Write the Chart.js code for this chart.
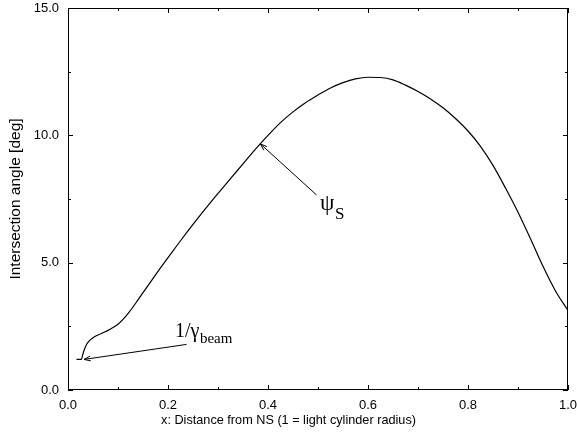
<!DOCTYPE html>
<html>
<head>
<meta charset="utf-8">
<script src="https://cdn.jsdelivr.net/npm/chart.js@4.4.0/dist/chart.umd.min.js"></script>
<style>
  html, body { margin: 0; padding: 0; background: #fff; }
  #wrap { width: 577px; height: 435px; }
</style>
</head>
<body>
<div id="wrap"><canvas id="chart-angle"></canvas></div>
<script>
// data
const xVals = [0.017, 0.027, 0.029, 0.032, 0.036, 0.042, 0.050, 0.060, 0.070, 0.080, 0.090, 0.100, 0.110, 0.120, 0.130,
    0.140, 0.160, 0.180, 0.200, 0.225, 0.250, 0.275, 0.300, 0.325, 0.350, 0.375, 0.400, 0.425, 0.450, 0.475,
    0.500, 0.525, 0.550, 0.575, 0.600, 0.625, 0.650, 0.675, 0.700, 0.725, 0.750, 0.775, 0.800, 0.825, 0.850,
    0.875, 0.900, 0.925, 0.950, 0.975, 1.000];
const yVals = [1.20, 1.20, 1.35, 1.55, 1.75, 1.92, 2.05, 2.16, 2.25, 2.34, 2.45, 2.58, 2.77, 3.00, 3.26,
    3.54, 4.10, 4.66, 5.20, 5.86, 6.50, 7.12, 7.72, 8.30, 8.88, 9.46, 10.00, 10.50, 10.92, 11.28,
    11.58, 11.86, 12.07, 12.22, 12.28, 12.27, 12.18, 11.97, 11.72, 11.43, 11.08, 10.66, 10.17, 9.57, 8.82,
    7.93, 6.98, 5.94, 4.86, 3.89, 3.12];
const xTickLabels = ['0.0', '0.2', '0.4', '0.6', '0.8', '1.0'];
const yTickLabels = ['0.0', '5.0', '10.0', '15.0'];
const xTitle = 'x: Distance from NS (1 = light cylinder radius)';

const points = xVals.map((x, i) => ({ x: x, y: yVals[i] }));

// inward ticks on all four sides plus the frame
const frameTicks = {
    id: 'frameTicks',
    afterDraw(chart) {
        const c = chart.ctx, a = chart.chartArea;
        const sx = chart.scales.x, sy = chart.scales.y;
        c.save();
        c.strokeStyle = '#000';
        c.lineWidth = 1;
        c.strokeRect(a.left + 0.5, a.top + 0.5, a.right - a.left - 1, a.bottom - a.top - 1);
        c.beginPath();
        for (let i = 0; i <= 10; i++) {
            const px = Math.round(sx.getPixelForValue(i / 10)) + 0.5;
            const len = i % 2 === 0 ? 5 : 3;
            c.moveTo(px, a.bottom); c.lineTo(px, a.bottom - len);
            c.moveTo(px, a.top); c.lineTo(px, a.top + len);
        }
        for (let i = 0; i <= 6; i++) {
            const py = Math.round(sy.getPixelForValue(i * 2.5)) + 0.5;
            const len = i % 2 === 0 ? 5 : 3;
            c.moveTo(a.left, py); c.lineTo(a.left + len, py);
            c.moveTo(a.right, py); c.lineTo(a.right - len, py);
        }
        c.stroke();
        // x title sits centred on the whole figure, not on the axis
        c.fillStyle = '#000';
        c.font = '12.7px "Liberation Sans"';
        c.textAlign = 'center';
        c.textBaseline = 'middle';
        c.fillText(xTitle, chart.width / 2, 420);
        c.restore();
    }
};

function arrow(c, x0, y0, x1, y1) {
    const ang = Math.atan2(y1 - y0, x1 - x0);
    c.beginPath();
    c.moveTo(x0, y0); c.lineTo(x1, y1);
    c.moveTo(x1, y1); c.lineTo(x1 - 7 * Math.cos(ang - 0.35), y1 - 7 * Math.sin(ang - 0.35));
    c.moveTo(x1, y1); c.lineTo(x1 - 7 * Math.cos(ang + 0.35), y1 - 7 * Math.sin(ang + 0.35));
    c.stroke();
}

function subLabel(c, main, sub, x, y, mainSize, subSize, drop) {
    c.font = mainSize + 'px "Liberation Serif"';
    c.fillText(main, x, y);
    const w = c.measureText(main).width;
    c.font = subSize + 'px "Liberation Serif"';
    c.fillText(sub, x + w + 0.5, y + drop);
}

// the two labels with arrows
const notes = {
    id: 'notes',
    afterDraw(chart) {
        const c = chart.ctx;
        const sx = chart.scales.x, sy = chart.scales.y;
        const X = v => sx.getPixelForValue(v), Y = v => sy.getPixelForValue(v);
        c.save();
        c.strokeStyle = '#000';
        c.fillStyle = '#000';
        c.lineWidth = 1;
        arrow(c, X(0.497), Y(7.66), X(0.385), Y(9.66));
        arrow(c, X(0.237), Y(1.79), X(0.032), Y(1.20));
        c.textBaseline = 'alphabetic';
        subLabel(c, '\u03c8', 'S', X(0.504), Y(7.05), 23, 17, 9);
        subLabel(c, '1/\u03b3', 'beam', X(0.214), Y(2.09), 20, 15, 6);
        c.restore();
    }
};

let cta = document.getElementById('chart-angle').getContext('2d');
let chart_angle = new Chart(cta, {
    type: 'line',
    data: {
        datasets: [{
            data: points,
            borderColor: '#000',
            borderWidth: 1.2,
            pointRadius: 0,
            fill: false,
            cubicInterpolationMode: 'monotone'
        }]
    },
    options: {
        responsive: true,
        maintainAspectRatio: false,
        animation: false,
        layout: {
            padding: 0
        },
        scales: {
            x: {
                type: 'linear',
                min: 0, max: 1,
                grid: { display: false, drawTicks: true, tickLength: 6 },
                border: { display: false },
                afterFit: function (scale) {
                    scale.height = 45;
                    scale.paddingLeft = 0;
                    scale.paddingRight = 9;
                },
                ticks: {
                    stepSize: 0.1,
                    autoSkip: false,
                    maxRotation: 0,
                    padding: 2,
                    color: '#000',
                    font: { family: 'Liberation Sans', size: 13 },
                    callback: function (value, index) {
                        return index % 2 === 0 ? xTickLabels[index / 2] : '';
                    }
                }
            },
            y: {
                min: 0, max: 15,
                grid: { display: false, drawTicks: true, tickLength: 6 },
                border: { display: false },
                afterFit: function (scale) {
                    scale.width = 68;
                    scale.paddingTop = 8;
                    scale.paddingBottom = 0;
                },
                ticks: {
                    stepSize: 2.5,
                    autoSkip: false,
                    padding: 3,
                    color: '#000',
                    font: { family: 'Liberation Sans', size: 13 },
                    callback: function (value, index) {
                        return index % 2 === 0 ? yTickLabels[index / 2] : '';
                    }
                },
                title: {
                    display: true,
                    text: 'Intersection angle [deg]',
                    color: '#000',
                    font: { family: 'Liberation Sans', size: 15.5 },
                    padding: { top: 6, bottom: 0 }
                }
            }
        },
        plugins: {
            legend: { display: false },
            tooltip: { enabled: false }
        }
    },
    plugins: [frameTicks, notes]
});
</script>
</body>
</html>
